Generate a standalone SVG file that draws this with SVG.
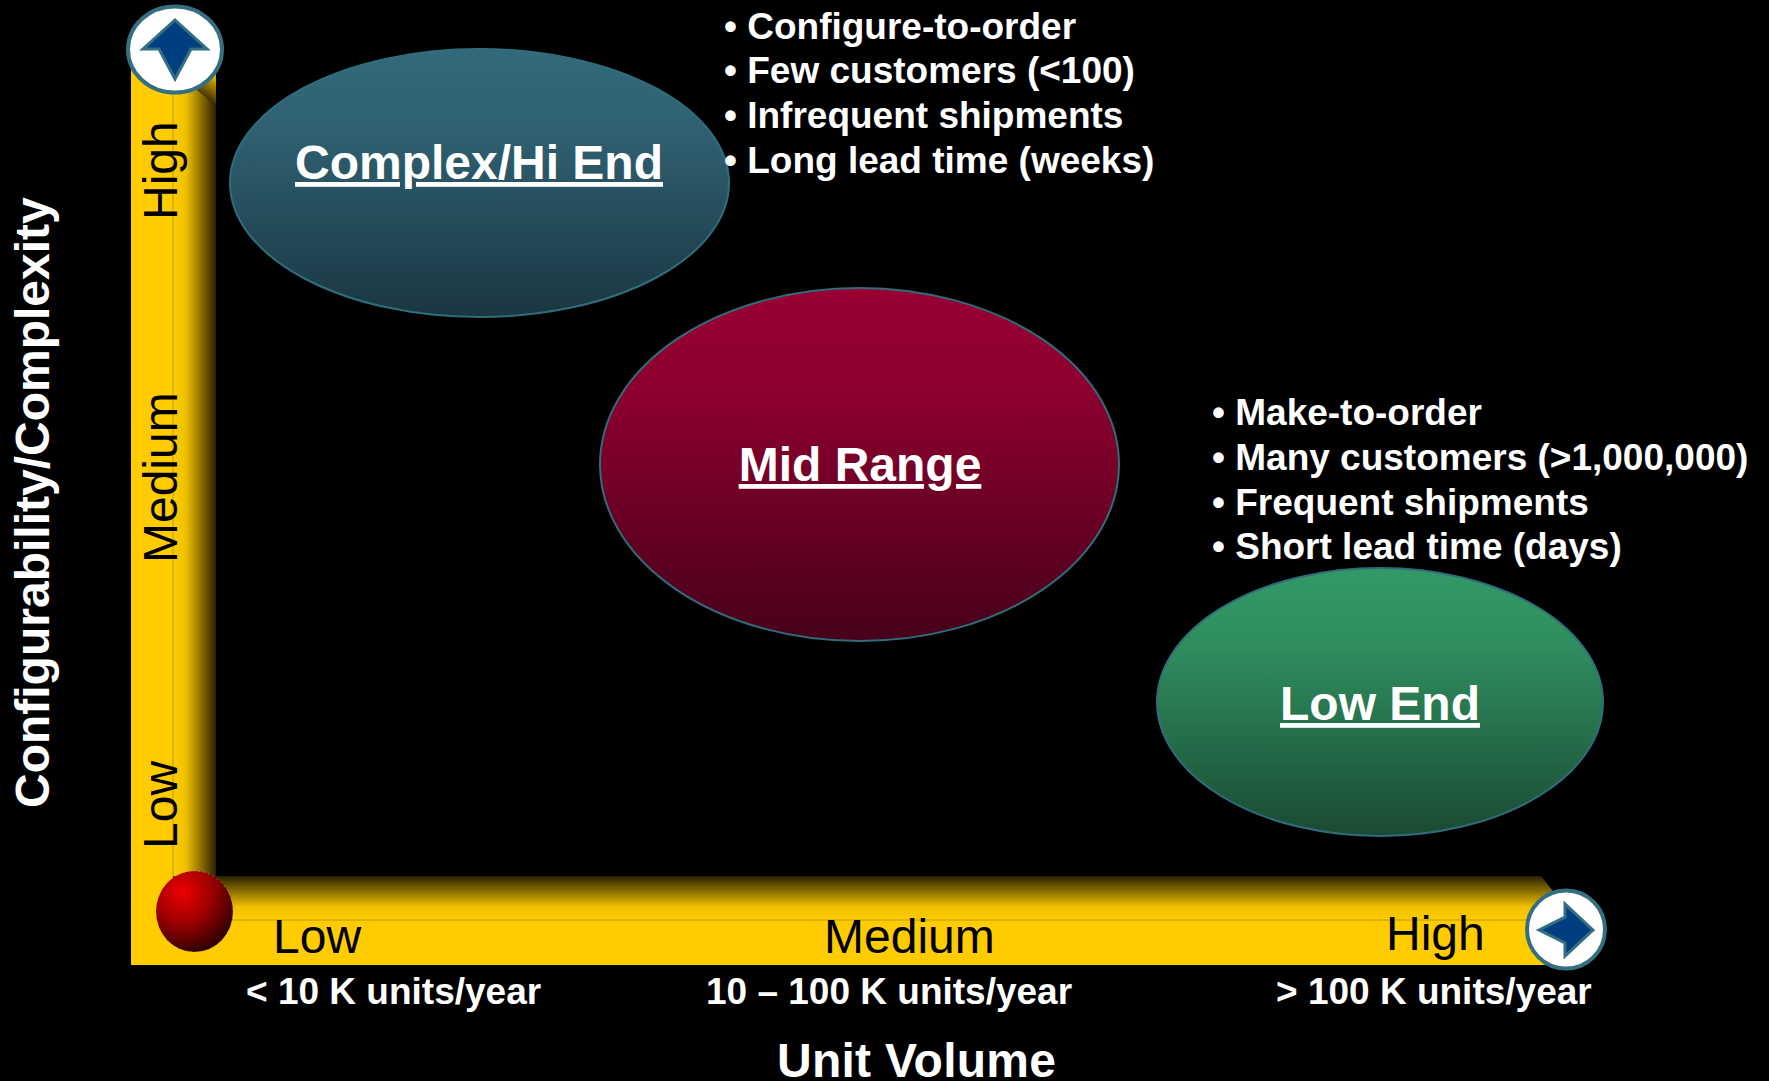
<svg xmlns="http://www.w3.org/2000/svg" width="1769" height="1081" viewBox="0 0 1769 1081">
<style>
text{font-family:"Liberation Sans",Arial,sans-serif;}
.b{fill:#fff;font-weight:bold;font-size:37px;}
.t{fill:#fff;font-weight:bold;font-size:48px;text-decoration:underline;text-anchor:middle;}
.a{fill:#000;font-size:48px;}
.v{fill:#fff;font-weight:bold;font-size:37px;}
.ax{fill:#fff;font-weight:bold;font-size:48px;}
.e{stroke:#2f6d7c;stroke-width:2;}
.c{fill:#fff;stroke:#336f80;stroke-width:4;}
.ar{fill:#003f7f;stroke:#336f80;stroke-width:3;stroke-linejoin:miter;}
</style>
<defs>
<linearGradient id="gv" x1="0" x2="1" y1="0" y2="0"><stop offset="0" stop-color="#ffcc00"/><stop offset="0.3" stop-color="#f0c000"/><stop offset="1" stop-color="#2a2000"/></linearGradient>
<linearGradient id="gh" x1="0" x2="0" y1="1" y2="0"><stop offset="0" stop-color="#ffcc00"/><stop offset="0.3" stop-color="#f0c000"/><stop offset="1" stop-color="#2a2000"/></linearGradient>
<linearGradient id="gc" gradientUnits="userSpaceOnUse" x1="212" y1="76" x2="200" y2="95"><stop offset="0" stop-color="#d8ad00"/><stop offset="1" stop-color="#3a2c00"/></linearGradient>
<linearGradient id="g1" x1="0" x2="0" y1="0" y2="1"><stop offset="0" stop-color="#33697a"/><stop offset="0.3" stop-color="#2f6172"/><stop offset="1" stop-color="#1a3640"/></linearGradient>
<linearGradient id="g2" x1="0" x2="0" y1="0" y2="1"><stop offset="0" stop-color="#990033"/><stop offset="0.3" stop-color="#8c002e"/><stop offset="1" stop-color="#47001a"/></linearGradient>
<linearGradient id="g3" x1="0" x2="0" y1="0" y2="1"><stop offset="0" stop-color="#339966"/><stop offset="0.3" stop-color="#2f8d5e"/><stop offset="1" stop-color="#1a4a33"/></linearGradient>
<radialGradient id="gs" cx="0.34" cy="0.26" r="0.8"><stop offset="0" stop-color="#ee0000"/><stop offset="0.5" stop-color="#990000"/><stop offset="1" stop-color="#250000"/></radialGradient>
</defs>
<rect width="1769" height="1081" fill="#000"/>
<g id="axes">
<rect x="131" y="70" width="43" height="895" fill="#ffcc00"/>
<path d="M173 70H216V876H173Z" fill="url(#gv)"/>
<path d="M185 80L197 90L216 106V70H185Z" fill="url(#gc)"/>
<path d="M173 876H1541L1556 895V920H173Z" fill="url(#gh)"/>
<rect x="131" y="920" width="1430" height="45" fill="#ffcc00"/>
<path d="M173 70V876" stroke="#b89a10" stroke-width="1" fill="none"/>
<path d="M173 920H1545" stroke="#b89a10" stroke-width="1" fill="none"/>
</g>
<g id="knob-top">
<ellipse class="c" cx="175" cy="49.500" rx="47" ry="43"/>
<path class="ar" d="M175 20L207 49H191L175 79L159 49H143Z"/>
</g>
<g id="knob-right">
<circle class="c" cx="1566" cy="929.500" r="39"/>
<path class="ar" d="M1593 930L1565 904V917L1539 930L1565 943V956Z"/>
</g>
<g id="origin"><ellipse cx="194.500" cy="911.500" rx="38.500" ry="40.500" fill="url(#gs)" stroke="#d08a9a" stroke-width="1" stroke-dasharray="1 4"/></g>
<g id="complex">
<ellipse class="e" cx="479.500" cy="183" rx="249.500" ry="134" fill="url(#g1)"/>
<text class="t" x="479" y="179">Complex/Hi End</text>
</g>
<g id="mid">
<ellipse class="e" cx="859.500" cy="464.500" rx="259.500" ry="176.500" fill="url(#g2)"/>
<text class="t" x="860" y="481">Mid Range</text>
</g>
<g id="low">
<ellipse class="e" cx="1380" cy="702" rx="223" ry="134" fill="url(#g3)"/>
<text class="t" x="1380" y="720">Low End</text>
</g>
<g id="bullets-top">
<text class="b" x="724" y="39">• Configure-to-order</text>
<text class="b" x="724" y="83">• Few customers (&lt;100)</text>
<text class="b" x="724" y="128">• Infrequent shipments</text>
<text class="b" x="724" y="173">• Long lead time (weeks)</text>
</g>
<g id="bullets-low">
<text class="b" x="1212" y="425">• Make-to-order</text>
<text class="b" x="1212" y="470">• Many customers (&gt;1,000,000)</text>
<text class="b" x="1212" y="515">• Frequent shipments</text>
<text class="b" x="1212" y="559">• Short lead time (days)</text>
</g>
<g id="axis-labels">
<text class="a" x="273" y="953">Low</text>
<text class="a" x="824" y="953">Medium</text>
<text class="a" x="1386" y="950">High</text>
<text class="a" transform="translate(176.500 220) rotate(-90)">High</text>
<text class="a" transform="translate(176.500 563) rotate(-90)">Medium</text>
<text class="a" transform="translate(176.500 849) rotate(-90)">Low</text>
<text class="v" x="246" y="1004">&lt; 10 K units/year</text>
<text class="v" x="706" y="1004">10 – 100 K units/year</text>
<text class="v" x="1276" y="1004">&gt; 100 K units/year</text>
<text class="ax" x="777" y="1077" textLength="279">Unit Volume</text>
<text class="ax" transform="translate(49 808) rotate(-90)">Configurability/Complexity</text>
</g>
</svg>
